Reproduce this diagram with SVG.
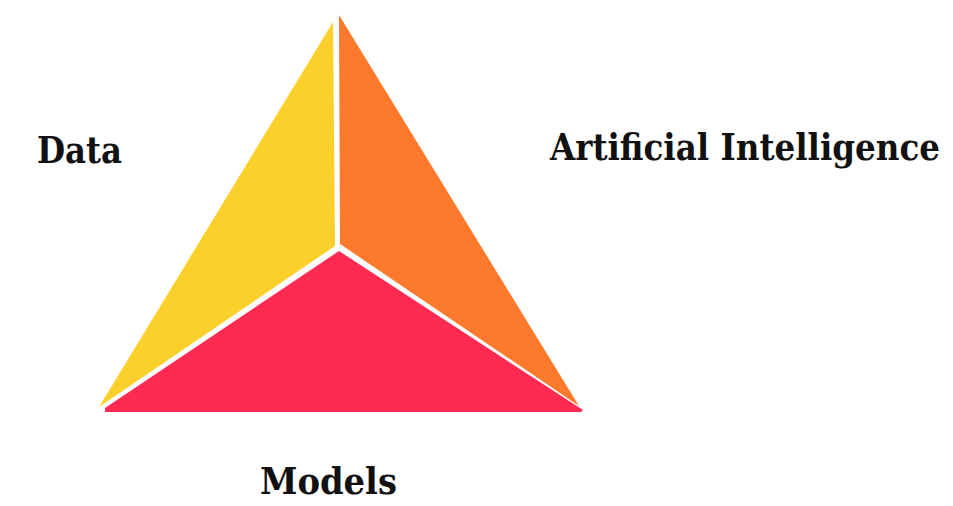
<svg xmlns="http://www.w3.org/2000/svg" width="953" height="506" viewBox="0 0 953 506">
<style>
.lbl{font-family:"DejaVu Serif Condensed","DejaVu Serif","Liberation Serif",serif;font-stretch:condensed;font-weight:bold;font-size:37px;fill:#111;}
</style>
<rect width="953" height="506" fill="#fff"/>
<g id="node-data-face"><polygon points="333,22 335,246 99,407" fill="#FCD02B"/></g>
<g id="node-ai-face"><polygon points="339,15 340,244 579,406" fill="#FD7A2D"/></g>
<g id="node-models-face"><polygon points="339,251 583,410 581,412 105,412 105,408" fill="#FE2A51"/></g>
<g id="connectors"></g>
<g id="node-data"><text class="lbl" x="37" y="163" textLength="85" lengthAdjust="spacingAndGlyphs">Data</text></g>
<g id="node-ai"><text class="lbl" x="550" y="160" textLength="390" lengthAdjust="spacingAndGlyphs">Artificial Intelligence</text></g>
<g id="node-models"><text class="lbl" x="260" y="494" textLength="137" lengthAdjust="spacingAndGlyphs">Models</text></g>
</svg>
